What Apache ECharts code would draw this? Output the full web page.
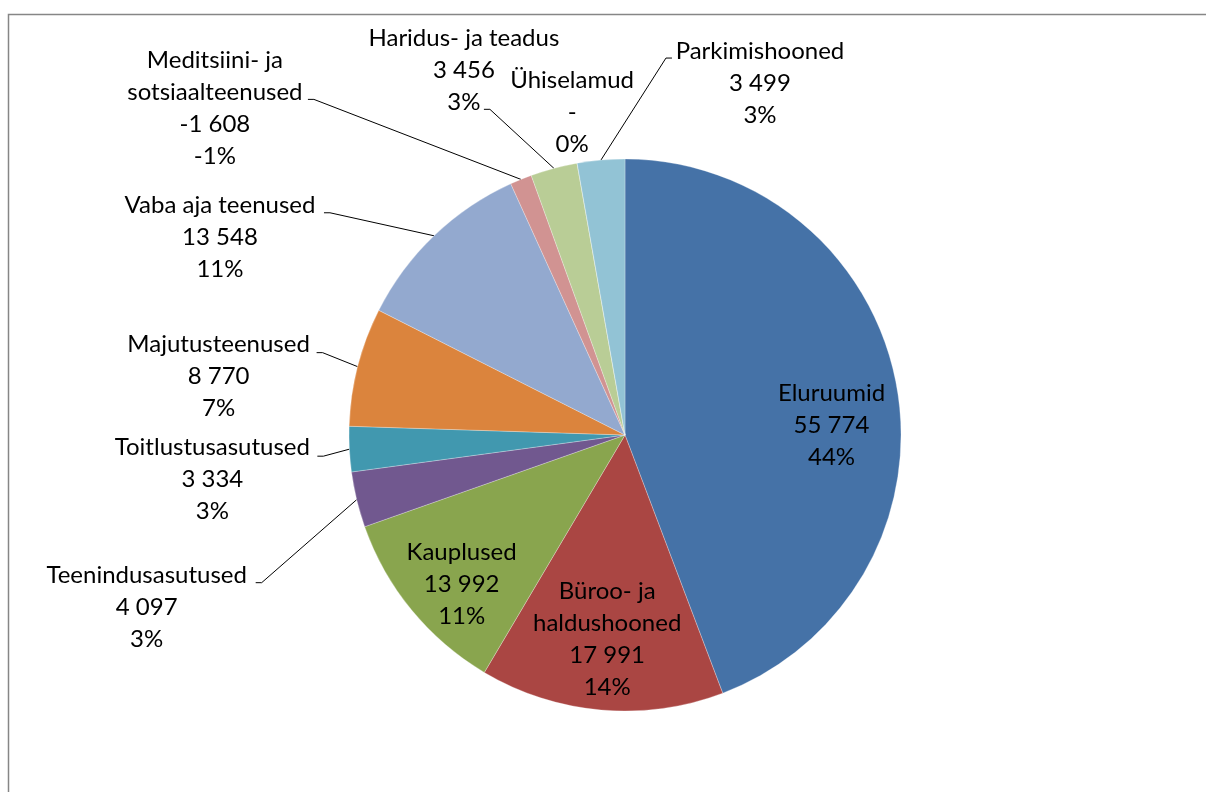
<!DOCTYPE html>
<html>
<head>
<meta charset="utf-8">
<script src="https://cdn.jsdelivr.net/npm/echarts@6/dist/echarts.min.js"></script>
<style>
  html, body { margin: 0; padding: 0; background: #fff; }
  #chart { width: 1206px; height: 792px; }
</style>
</head>
<body>
<div id="chart"></div>
<script>
const categories = [
  'Eluruumid',
  'Büroo- ja\nhaldushooned',
  'Kauplused',
  'Teenindusasutused',
  'Toitlustusasutused',
  'Majutusteenused',
  'Vaba aja teenused',
  'Meditsiini- ja\nsotsiaalteenused',
  'Haridus- ja teadus',
  'Ühiselamud',
  'Parkimishooned'
]
const values = [55774, 17991, 13992, 4097, 3334, 8770, 13548, -1608, 3456, 0, 3499]

const colors = ['#4572A7', '#AA4643', '#89A54E', '#71588F', '#4198AF', '#DB843D',
  '#93A9CF', '#D19392', '#B9CD96', '#A99BBD', '#92C3D5']

// label placement: top-centre of the text block, relative to the slice's edge midpoint
const labelShift = [
  [-65, -8], [6, -135], [50, -74], [-210, 60], [-137, -18], [-139, -38],
  [-214, -47], [-306, -135], [-90, -146], [-5, -99], [159, -125]
]
// where the leader line meets the label, relative to the same top-centre (null = no line)
const leaderEnd = [
  null, null, null, [109, 23], [105, 25], [98, 24],
  [104, 24], [93, 55], [20, 87], null, [-88, 23]
]

const total = values.reduce((s, v) => s + Math.abs(v), 0)

function fmtNum (v) {
  if (v === 0) return '-'
  const s = String(Math.abs(v)).replace(/\B(?=(\d{3})+(?!\d))/g, ' ')
  return (v < 0 ? '-' : '') + s
}

const pieData = categories.map((name, i) => ({
  name: name,
  value: Math.abs(values[i]),
  raw: values[i],
  itemStyle: { color: colors[i] }
}))

const chart = echarts.init(document.getElementById('chart'))

const option = {
  animation: false,
  backgroundColor: '#fff',
  graphic: [{
    type: 'rect',
    silent: true,
    z: -1,
    shape: { x: 8.5, y: 14.5, width: 1400, height: 1000 },
    style: { fill: 'none', stroke: '#868686', lineWidth: 1.5 }
  }],
  series: [{
    type: 'pie',
    center: [625, 435],
    radius: 276,
    startAngle: 90,
    clockwise: true,
    avoidLabelOverlap: false,
    itemStyle: { borderColor: 'rgba(255,255,255,0.45)', borderWidth: 0.6 },
    emphasis: { disabled: true },
    label: {
      show: true,
      position: 'outside',
      color: '#000',
      fontFamily: 'Lato, "Open Sans", sans-serif',
      fontSize: 24,
      lineHeight: 32,
      formatter: function (p) {
        const raw = p.data.raw
        return p.name + '\n' + fmtNum(raw) + '\n' + Math.round(raw / total * 100) + '%'
      }
    },
    labelLine: {
      show: true,
      length: 10,
      length2: 10,
      lineStyle: { color: '#000', width: 1 }
    },
    labelLayout: function (params) {
      const i = params.dataIndex
      const pts = params.labelLinePoints
      if (!pts) return {}
      const a = pts[0]
      const x = a[0] + labelShift[i][0]
      const y = a[1] + labelShift[i][1]
      let line = [a, a, a]
      const end = leaderEnd[i]
      if (end) {
        const ex = x + end[0]
        const ey = y + end[1]
        const mx = ex + (a[0] > ex ? 6 : -6)
        line = [a, [mx, ey], [ex, ey]]
      }
      return { x: x, y: y, align: 'center', verticalAlign: 'top', labelLinePoints: line }
    },
    data: pieData
  }]
}

chart.setOption(option)
window.addEventListener('resize', () => chart.resize())
</script>
</body>
</html>
